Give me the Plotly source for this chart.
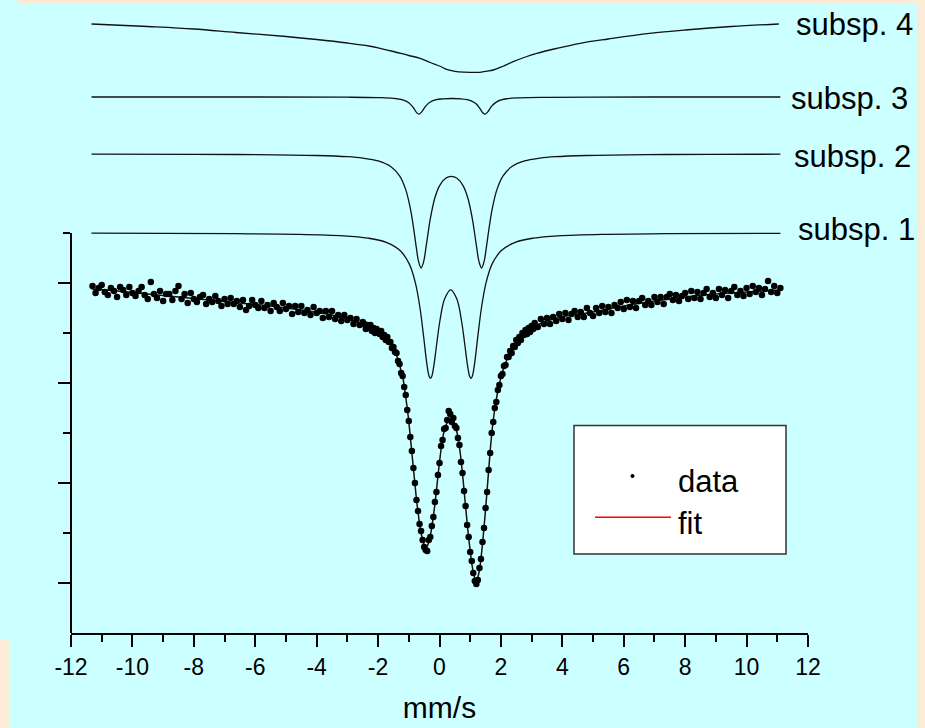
import plotly.graph_objects as go

# ---------------- data (velocity in mm/s, counts in arbitrary offset units) -------------
vel_wing_left = [
    -11.3, -11.2, -11.1, -11.0, -10.9, -10.8, -10.7, -10.6, -10.5, -10.4,
    -10.3, -10.2, -10.1, -10.0, -9.9, -9.8, -9.7, -9.6, -9.5, -9.4,
    -9.3, -9.2, -9.1, -9.0, -8.9, -8.8, -8.7, -8.6, -8.5, -8.4,
    -8.3, -8.2, -8.1, -8.0, -7.9, -7.8, -7.7, -7.6, -7.5, -7.4,
    -7.3, -7.2, -7.1, -7.0, -6.9, -6.8, -6.7, -6.6, -6.5, -6.4,
    -6.3, -6.2, -6.1, -6.0, -5.9, -5.8, -5.7, -5.6, -5.5, -5.4,
    -5.3, -5.2, -5.1, -5.0, -4.9, -4.8, -4.7, -4.6, -4.5, -4.4,
    -4.3, -4.2, -4.1, -4.0, -3.9, -3.8, -3.7, -3.6, -3.5, -3.4,
    -3.3, -3.2, -3.1, -3.0, -2.9, -2.8, -2.7, -2.6, -2.5]
cnt_wing_left = [
    347, 340, 345, 348, 341, 338, 345, 342, 336, 346,
    343, 338, 346, 340, 337, 342, 346, 338, 334, 351,
    339, 335, 342, 332, 339, 339, 333, 342, 347, 334,
    339, 330, 340, 334, 331, 336, 338, 329, 334, 331,
    337, 332, 327, 334, 329, 335, 329, 332, 326, 333,
    323, 327, 333, 328, 325, 332, 325, 328, 322, 330,
    326, 322, 330, 324, 327, 319, 327, 321, 327, 320,
    323, 318, 326, 320, 322, 315, 322, 316, 322, 314,
    318, 312, 318, 313, 315, 309, 314, 308, 311]

vel_center = [
    -2.45, -2.40, -2.35, -2.30, -2.25, -2.20, -2.15, -2.10, -2.05, -2.00,
    -1.95, -1.90, -1.85, -1.80, -1.75, -1.70, -1.65, -1.60, -1.55, -1.50,
    -1.45, -1.40, -1.35, -1.30, -1.25, -1.20, -1.15, -1.10, -1.05, -1.00,
    -0.95, -0.90, -0.85, -0.80, -0.75, -0.70, -0.65, -0.60, -0.55, -0.50,
    -0.45, -0.40, -0.35, -0.30, -0.25, -0.20, -0.15, -0.10, -0.05, 0.00,
    0.05, 0.10, 0.15, 0.20, 0.25, 0.30, 0.35, 0.40, 0.45, 0.50,
    0.55, 0.60, 0.65, 0.70, 0.75, 0.80, 0.85, 0.90, 0.95, 1.00,
    1.05, 1.10, 1.15, 1.20, 1.25, 1.30, 1.35, 1.40, 1.45, 1.50,
    1.55, 1.60, 1.65, 1.70, 1.75, 1.80, 1.85, 1.90, 1.95, 2.00,
    2.05, 2.10, 2.15, 2.20, 2.25, 2.30, 2.35, 2.40, 2.45, 2.50,
    2.55, 2.60, 2.65, 2.70, 2.75, 2.80, 2.85, 2.90, 2.95, 3.00,
    3.05, 3.10, 3.15]
cnt_center = [
    309, 304, 308, 305, 308, 302, 305, 300, 304, 302,
    299, 302, 296, 298, 293, 296, 291, 291, 285, 286,
    281, 280, 272, 269, 260, 257, 246, 238, 223, 212,
    196, 182, 165, 150, 133, 122, 109, 102, 93, 86,
    83, 82, 93, 96, 107, 116, 131, 141, 158, 170,
    187, 193, 204, 205, 213, 222, 219, 211, 215, 207,
    205, 195, 188, 171, 160, 142, 127, 108, 96, 81,
    72, 60, 52, 49, 53, 65, 74, 91, 105, 125,
    141, 163, 180, 200, 211, 225, 231, 243, 248, 257,
    259, 267, 268, 276, 276, 282, 280, 287, 286, 293,
    290, 296, 293, 300, 298, 303, 299, 305, 301, 307,
    304, 310, 306]

vel_wing_right = [
    3.2, 3.3, 3.4, 3.5, 3.6, 3.7, 3.8, 3.9, 4.0, 4.1,
    4.2, 4.3, 4.4, 4.5, 4.6, 4.7, 4.8, 4.9, 5.0, 5.1,
    5.2, 5.3, 5.4, 5.5, 5.6, 5.7, 5.8, 5.9, 6.0, 6.1,
    6.2, 6.3, 6.4, 6.5, 6.6, 6.7, 6.8, 6.9, 7.0, 7.1,
    7.2, 7.3, 7.4, 7.5, 7.6, 7.7, 7.8, 7.9, 8.0, 8.1,
    8.2, 8.3, 8.4, 8.5, 8.6, 8.7, 8.8, 8.9, 9.0, 9.1,
    9.2, 9.3, 9.4, 9.5, 9.6, 9.7, 9.8, 9.9, 10.0, 10.1,
    10.2, 10.3, 10.4, 10.5, 10.6, 10.7, 10.8, 10.9, 11.0, 11.1]
cnt_wing_right = [
    306, 314, 309, 315, 309, 316, 312, 319, 314, 320,
    313, 319, 322, 316, 321, 316, 325, 320, 317, 325,
    320, 327, 321, 326, 320, 328, 325, 331, 324, 333,
    326, 332, 325, 332, 335, 328, 332, 328, 336, 331,
    336, 329, 336, 339, 333, 338, 332, 337, 340, 334,
    342, 335, 341, 334, 340, 344, 336, 340, 335, 344,
    338, 343, 335, 342, 346, 338, 342, 337, 345, 339,
    347, 341, 345, 338, 344, 352, 341, 347, 340, 345]

fit_vel = [-11.33, -10.5, -9.5, -8.5, -7.5, -6.5, -5.5, -4.5, -3.5, -3.0,
           -2.6, -2.3, -2.0, -1.8, -1.6, -1.45, -1.32, -1.25, -1.18, -1.10,
           -1.02, -0.95, -0.88, -0.81, -0.74, -0.67, -0.60, -0.53, -0.46, -0.40,
           -0.33, -0.26, -0.19, -0.12, -0.05, 0.02, 0.09, 0.16, 0.23, 0.30,
           0.37, 0.44, 0.51, 0.58, 0.65, 0.72, 0.79, 0.86, 0.93, 1.00,
           1.07, 1.13, 1.19, 1.25, 1.31, 1.37, 1.43, 1.49, 1.55, 1.61,
           1.67, 1.74, 1.82, 1.90, 1.98, 2.06, 2.15, 2.3, 2.5, 2.75,
           3.0, 3.4, 4.0, 5.0, 6.0, 7.0, 8.0, 9.0, 10.0, 11.1]
fit_cnt = [344, 342, 339, 336, 333, 330, 327, 323, 318, 314,
           310, 306, 302, 297, 290, 282, 270, 262, 253, 236,
           217, 196, 174, 152, 131, 114, 100, 91, 86, 87,
           93, 104, 119, 137, 157, 176, 192, 203, 209, 212,
           213, 211, 207, 199, 186, 168, 146, 123, 101, 82,
           66, 57, 53, 56, 65, 80, 99, 120, 143, 166,
           189, 210, 228, 242, 253, 262, 270, 280, 290, 299,
           305, 311, 316, 321, 327, 332, 336, 339, 341, 343]

sub1_vel = [-11.335, -6.635, -4.635, -3.135, -2.335, -1.735, -1.285, -0.985, -0.785, -0.635,
            -0.515, -0.415, -0.345, -0.3, -0.255, -0.185, -0.085, 0.015, 0.165, 0.365,
            0.565, 0.715, 0.815, 0.915, 0.985, 1.03, 1.075, 1.145, 1.245, 1.365,
            1.515, 1.715, 2.015, 2.465, 3.065, 3.865, 5.365, 7.365, 11.1]
sub1_cnt = [399.8, 399.3, 398.7, 397.2, 394.9, 390.7, 382.5, 369.1, 350.2, 325.0,
            295.8, 269.8, 257.4, 254.6, 256.4, 267.1, 290.5, 312.5, 333.9, 343.2,
            333.9, 312.5, 290.5, 267.1, 256.4, 254.6, 257.4, 269.8, 295.8, 325.0,
            350.2, 369.1, 382.5, 390.7, 394.9, 397.2, 398.7, 399.3, 399.7]

sub2_vel = [-11.33, -8, -6, -4, -3, -2.5, -2, -1.6, -1.3, -1.1,
            -0.95, -0.85, -0.75, -0.68, -0.6, -0.52, -0.42, -0.3, -0.15, 0,
            0.2, 0.385, 0.57, 0.77, 0.92, 1.07, 1.19, 1.29, 1.37, 1.45,
            1.52, 1.62, 1.72, 1.87, 2.07, 2.37, 2.77, 3.27, 3.77, 4.77,
            6.77, 8.77, 11.1]
sub2_cnt = [478.8, 478.6, 478.4, 477.5, 476.3, 474.9, 472.1, 466.7, 457.2, 443.4,
            424.6, 406.1, 384.4, 371.3, 365.0, 370.9, 389.8, 414.1, 435.2, 447.1,
            454.7, 456.6, 454.7, 447.1, 435.2, 414.1, 389.8, 370.9, 365.0, 371.3,
            384.4, 406.1, 424.6, 443.4, 457.2, 466.7, 472.1, 474.9, 476.3, 477.5,
            478.4, 478.6, 478.8]

sub3_vel = [-11.33, -6, -3, -2, -1.5, -1.2, -1.0, -0.85, -0.75, -0.67,
            -0.58, -0.45, -0.3, -0.1, 0.1, 0.4, 0.7, 0.9, 1.05, 1.2,
            1.32, 1.40, 1.48, 1.57, 1.7, 1.9, 2.2, 2.6, 3.5, 5,
            8, 11.1]
sub3_cnt = [536.0, 536.0, 535.8, 535.4, 534.7, 533.2, 530.3, 525.3, 520.6, 518.8,
            521.1, 526.9, 531.0, 533.3, 534.1, 534.5, 534.2, 533.3, 531.9, 528.9,
            524.3, 520.6, 518.8, 521.1, 526.9, 531.9, 534.3, 535.2, 535.7, 535.9,
            536.0, 536.0]

sub4_vel = [-11.33, -9.5, -8, -6.63, -5, -4, -3, -2.3, -1.94, -1.5,
            -1.0, -0.63, -0.3, 0.0, 0.23, 0.5, 0.8, 1.0, 1.32, 1.55,
            1.75, 2.05, 2.40, 2.8, 3.17, 3.8, 4.58, 5.5, 6.84, 8.0,
            9.5, 11.05]
sub4_cnt = [609, 606.5, 604, 600.5, 596.5, 593.5, 590, 587, 584.7, 581.5,
            577.5, 574.7, 570.5, 567, 563.7, 561.7, 560.8, 560.6, 560.7, 561.8,
            563, 566.5, 571.3, 576, 579.7, 584.5, 589.7, 594, 599.6, 603,
            606.5, 609]

x_ticks = [-12, -10, -8, -6, -4, -2, 0, 2, 4, 6, 8, 10, 12]
x_tick_labels = ["-12", "-10", "-8", "-6", "-4", "-2", "0", "2", "4", "6", "8", "10", "12"]
x_minor = [-11, -9, -7, -5, -3, -1, 1, 3, 5, 7, 9, 11]
y_major = [50, 150, 250, 350]
y_minor = [100, 200, 300, 400]
sub_labels = ["subsp. 1", "subsp. 2", "subsp. 3", "subsp. 4"]

data_vel = vel_wing_left + vel_center + vel_wing_right
data_cnt = cnt_wing_left + cnt_center + cnt_wing_right

# ---------------- layout constants ----------------
W, H = 925, 728
ML, MR, MT, MB = 71, 117, 5, 95
PW, PH = W - ML - MR, H - MT - MB
FONT = "Liberation Sans, Arial, sans-serif"
CYAN = "#CCFFFF"
BEIGE = "#FCEBD6"


def px(xp):
    return (xp - ML) / PW


def py(yp):
    return (H - MB - yp) / PH


fig = go.Figure()
line_style = dict(color="#111111", width=1.3)
for xs, ys in [(sub4_vel, sub4_cnt), (sub3_vel, sub3_cnt), (sub2_vel, sub2_cnt), (sub1_vel, sub1_cnt)]:
    fig.add_trace(go.Scatter(x=xs, y=ys, mode="lines", line=line_style,
                             line_shape="spline", hoverinfo="skip"))
fig.add_trace(go.Scatter(x=fit_vel, y=fit_cnt, mode="lines", name="fit",
                         line=dict(color="#111111", width=1.5), line_shape="spline"))
fig.add_trace(go.Scatter(x=data_vel, y=data_cnt, mode="markers", name="data",
                         marker=dict(color="black", size=6.5, line=dict(width=0))))

shapes = [
    # beige frame strips
    dict(type="rect", xref="paper", yref="paper", x0=px(917), x1=px(930), y0=py(735), y1=py(-5),
         fillcolor=BEIGE, line=dict(width=0), layer="above"),
    dict(type="rect", xref="paper", yref="paper", x0=px(17), x1=px(930), y0=py(3.3), y1=py(-5),
         fillcolor=BEIGE, line=dict(width=0), layer="above"),
    dict(type="rect", xref="paper", yref="paper", x0=px(-5), x1=px(9), y0=py(735), y1=py(639),
         fillcolor=BEIGE, line=dict(width=0), layer="above"),
    # y axis line (only lower part)
    dict(type="line", xref="paper", yref="y", x0=0, x1=0, y0=0, y1=400,
         line=dict(color="black", width=2)),
    # legend box
    dict(type="rect", xref="paper", yref="paper", x0=px(574), x1=px(786), y0=py(554), y1=py(425.5),
         fillcolor="white", line=dict(color="#333333", width=1.5), layer="above"),
    dict(type="circle", xref="paper", yref="paper", x0=px(630.5), x1=px(634.5), y0=py(478), y1=py(474),
         fillcolor="black", line=dict(width=0), layer="above"),
    dict(type="line", xref="paper", yref="paper", x0=px(595), x1=px(671), y0=py(517.3), y1=py(517.3),
         line=dict(color="red", width=1.5), layer="above"),
]

annotations = [
    dict(text="data", xref="paper", yref="paper", x=px(676), y=py(481), xanchor="left", yanchor="middle",
         showarrow=False, font=dict(family=FONT, size=31, color="black")),
    dict(text="fit", xref="paper", yref="paper", x=px(676), y=py(523), xanchor="left", yanchor="middle",
         showarrow=False, font=dict(family=FONT, size=31, color="black")),
]
label_pos = [(796, 229), (792, 156), (789, 98), (794, 25)]
for lab, (lx, ly) in zip(sub_labels, label_pos):
    annotations.append(dict(text=lab, xref="paper", yref="paper", x=px(lx), y=py(ly),
                            xanchor="left", yanchor="middle", showarrow=False,
                            font=dict(family=FONT, size=31, color="black")))

fig.update_layout(
    width=W, height=H,
    margin=dict(l=ML, r=MR, t=MT, b=MB, pad=0),
    paper_bgcolor=CYAN, plot_bgcolor=CYAN,
    showlegend=False,
    font=dict(family=FONT, color="black"),
    shapes=shapes, annotations=annotations,
    xaxis=dict(range=[-12, 12], showgrid=False, zeroline=False,
               showline=True, linecolor="black", linewidth=2,
               ticks="outside", ticklen=12, tickwidth=2, tickcolor="black",
               tickmode="array", tickvals=x_ticks, ticktext=x_tick_labels,
               tickfont=dict(family=FONT, size=23, color="black"),
               minor=dict(tickmode="array", tickvals=x_minor, ticks="outside", ticklen=7,
                          tickwidth=2, tickcolor="black", showgrid=False),
               title=dict(text="mm/s", font=dict(family=FONT, size=30, color="black"), standoff=18),
               automargin=False),
    yaxis=dict(range=[0, PH], showgrid=False, zeroline=False, showline=False,
               ticks="outside", ticklen=12, tickwidth=2, tickcolor="black",
               tickmode="array", tickvals=y_major, showticklabels=False,
               minor=dict(tickmode="array", tickvals=y_minor, ticks="outside", ticklen=7,
                          tickwidth=2, tickcolor="black", showgrid=False),
               automargin=False),
)

fig.write_html("out.html", config={"displayModeBar": False},
               post_script="document.body.style.margin='0';document.body.style.overflow='hidden';")
